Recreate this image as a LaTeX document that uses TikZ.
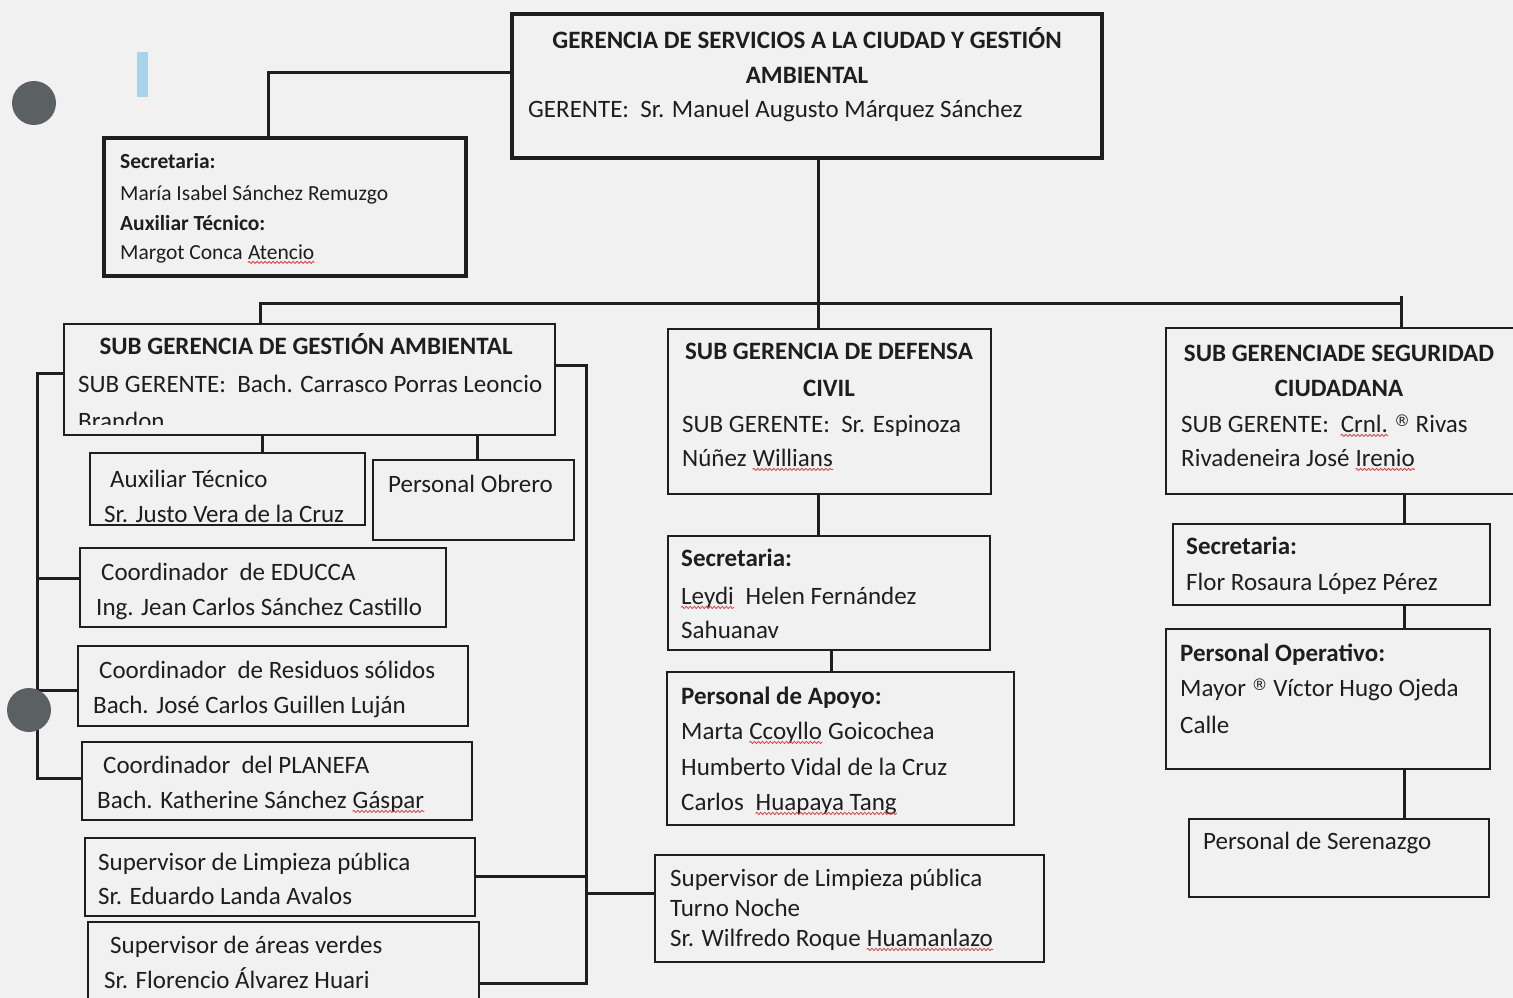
\documentclass[tikz,border=0pt]{standalone}
\usepackage{fontspec}
\setmainfont{Carlito}
\newfontfamily\djfont{DejaVu Sans}
\usetikzlibrary{fit,decorations.pathmorphing}
\definecolor{bg}{HTML}{F1F1F1}
\definecolor{ink}{HTML}{1E1E1E}
\definecolor{dotc}{HTML}{5B6062}
\definecolor{lblue}{HTML}{A9D3EA}
\definecolor{sqred}{HTML}{E04040}
\newcommand\reg{\raisebox{6pt}{\djfont\fontsize{16}{16}\selectfont ®}}
\tikzset{
 box/.style={draw=ink, line width=2.4pt, inner sep=0pt},
 thickbox/.style={box, line width=3.4pt},
 conn/.style={draw=ink, line width=3pt},
 txt/.style={anchor=mid west, inner sep=0pt, yshift=-4pt, text=ink, font=\fontsize{25}{30}\selectfont},
 btxt/.style={txt, font=\fontsize{25}{30}\selectfont\bfseries},
 ctitle/.style={anchor=mid, inner sep=0pt, yshift=-4pt, text=ink, font=\fontsize{25}{30}\selectfont\bfseries},
 stxt/.style={txt, font=\fontsize{21.5}{26}\selectfont},
 sbtxt/.style={txt, font=\fontsize{21.5}{26}\selectfont\bfseries},
 wcont/.style={anchor=base west, inner sep=0pt, text=ink, font=\fontsize{25}{30}\selectfont},
 squig/.style={draw=sqred, line width=0.8pt, decorate, decoration={snake, amplitude=1.1pt, segment length=4pt}},
}
\begin{document}
\begin{tikzpicture}[x=1pt,y=-1pt]
\fill[bg] (0,0) rectangle (1513,998);
\useasboundingbox (0,0) rectangle (1513,998);
\clip (0,0) rectangle (1513,998);

% decorations
\fill[lblue] (137,52) rectangle (148,97);
\fill[dotc] (34,103) circle[radius=22pt];

% boxes
\node[thickbox, fit={(512,14) (1102,158)}] (ger) {};
\node[thickbox, fit={(104,138) (466,276)}] (sec) {};
\node[box, fit={(64,324) (555,435)}] (sga) {};
\node[box, fit={(90,453) (365,525)}] (aux) {};
\node[box, fit={(373,460) (574,540)}] (obr) {};
\node[box, fit={(80,548) (446,627)}] (edu) {};
\node[box, fit={(78,646) (468,726)}] (res) {};
\node[box, fit={(82,742) (472,820)}] (plan) {};
\node[box, fit={(85,838) (475,916)}] (lim) {};
\node[box, fit={(88,922) (479,1010)}] (ver) {};
\node[box, fit={(655,855) (1044,962)}] (noc) {};
\node[box, fit={(668,329) (991,494)}] (def) {};
\node[box, fit={(668,536) (990,650)}] (dsec) {};
\node[box, fit={(667,672) (1014,825)}] (apo) {};
\node[box, fit={(1166,328) (1530,494)}] (seg) {};
\node[box, fit={(1173,524) (1490,605)}] (ssec) {};
\node[box, fit={(1166,629) (1490,769)}] (ope) {};
\node[box, fit={(1189,819) (1489,897)}] (ser) {};

% connectors
\coordinate (barL) at (260,303);
\coordinate (barR) at (1401,303);
\draw[conn] (ger.west |- 0,73) -| (268,0 |- sec.north);
\draw[conn] (818,0 |- ger.south) -- (818,0 |- def.north);
\draw[conn] (260,0 |- sga.north) -- (barL) -- (barR) -- (1401,0 |- seg.north);
\draw[conn] (1401,296) -- (barR);
\draw[conn] (262,0 |- sga.south) -- (262,0 |- aux.north);
\draw[conn] (477,0 |- sga.south) -- (477,0 |- obr.north);
\coordinate (lt) at (37,373);
\coordinate (lb) at (37,778);
\draw[conn] (sga.west |- lt) -- (lt) -- (lb) -- (plan.west |- lb);
\draw[conn] (37,578) -- (edu.west |- 0,578);
\draw[conn] (37,690) -- (res.west |- 0,690);
\coordinate (rt) at (586,365);
\coordinate (rb) at (586,983);
\draw[conn] (sga.east |- rt) -- (rt) -- (rb) -- (ver.east |- rb);
\draw[conn] (lim.east |- 0,876) -- (586,876);
\draw[conn] (586,893) -- (noc.west |- 0,893);
\draw[conn] (818,0 |- def.south) -- (818,0 |- dsec.north);
\draw[conn] (831,0 |- dsec.south) -- (831,0 |- apo.north);
\draw[conn] (1404,0 |- seg.south) -- (1404,0 |- ssec.north);
\draw[conn] (1404,0 |- ssec.south) -- (1404,0 |- ope.north);
\draw[conn] (1404,0 |- ope.south) -- (1404,0 |- ser.north);

\fill[dotc] (29,710) circle[radius=22pt];

% texts: gerencia
\node[ctitle] (g1) at (807,42) {GERENCIA DE SERVICIOS A LA CIUDAD Y GESTIÓN};
\node[ctitle] (g2) at (807,77) {AMBIENTAL};
\node[txt] (g3) at (528,111) {GERENTE:\ \ Sr. Manuel Augusto Márquez Sánchez};
% secretaria
\node[sbtxt] (s1) at (120,162) {Secretaria:};
\node[stxt] (s2) at (120,194) {María Isabel Sánchez Remuzgo};
\node[sbtxt] (s3) at (120,224) {Auxiliar Técnico:};
\node[stxt] (s4) at (120,253) {Margot Conca};
\node[wcont, font=\fontsize{21.5}{26}\selectfont] (s4w) at ([xshift=4.9pt]s4.base east) {Atencio};
\draw[squig] ([yshift=-3pt]s4w.base west) -- ([yshift=-3pt]s4w.base east);
% sub gerencia gestion ambiental
\node[ctitle] (a1) at (306,348) {SUB GERENCIA DE GESTIÓN AMBIENTAL};
\node[txt] (a2) at (78,386) {SUB GERENTE:\ \ Bach. Carrasco Porras Leoncio};
\begin{scope}
\clip (66,400) rectangle (553,424);
\node[txt] (a3) at (78,423) {Brandon};
\end{scope}
\node[txt] (x1) at (110,481) {Auxiliar Técnico};
\node[txt] (x2) at (104,516) {Sr. Justo Vera de la Cruz};
\node[txt] (o1) at (388,486) {Personal Obrero};
\node[txt] (e1) at (101,574) {Coordinador\ \ de EDUCCA};
\node[txt] (e2) at (96,609) {Ing. Jean Carlos Sánchez Castillo};
\node[txt] (r1) at (99,672) {Coordinador\ \ de Residuos sólidos};
\node[txt] (r2) at (93,707) {Bach. José Carlos Guillen Luján};
\node[txt] (p1) at (103,767) {Coordinador\ \ del PLANEFA};
\node[txt] (p2) at (97,802) {Bach. Katherine Sánchez};
\node[wcont] (p2w) at ([xshift=5.7pt]p2.base east) {Gáspar};
\draw[squig] ([yshift=-3pt]p2w.base west) -- ([yshift=-3pt]p2w.base east);
\node[txt] (l1) at (98,864) {Supervisor de Limpieza pública};
\node[txt] (l2) at (98,898) {Sr. Eduardo Landa Avalos};
\node[txt] (v1) at (110,947) {Supervisor de áreas verdes};
\node[txt] (v2) at (104,982) {Sr. Florencio Álvarez Huari};
\node[txt] (n1) at (670,880) {Supervisor de Limpieza pública};
\node[txt] (n2) at (670,910) {Turno Noche};
\node[txt] (n3) at (670,940) {Sr. Wilfredo Roque};
\node[wcont] (n3w) at ([xshift=5.7pt]n3.base east) {Huamanlazo};
\draw[squig] ([yshift=-3pt]n3w.base west) -- ([yshift=-3pt]n3w.base east);
% defensa civil
\node[ctitle] (d1) at (829,353) {SUB GERENCIA DE DEFENSA};
\node[ctitle] (d2) at (829,390) {CIVIL};
\node[txt] (d3) at (682,426) {SUB GERENTE:\ \ Sr. Espinoza};
\node[txt] (d4) at (682,460) {Núñez};
\node[wcont] (d4w) at ([xshift=5.7pt]d4.base east) {Willians};
\draw[squig] ([yshift=-3pt]d4w.base west) -- ([yshift=-3pt]d4w.base east);
\node[btxt] (ds1) at (681,560) {Secretaria:};
\node[txt] (ds2w) at (681,598) {Leydi};
\node[wcont] (ds2) at ([xshift=11.4pt]ds2w.base east) {Helen Fernández};
\draw[squig] ([yshift=-3pt]ds2w.base west) -- ([yshift=-3pt]ds2w.base east);
\node[txt] (ds3) at (681,632) {Sahuanav};
\node[btxt] (ap1) at (681,698) {Personal de Apoyo:};
\node[txt] (ap2) at (681,733) {Marta};
\node[wcont] (ap2w) at ([xshift=5.7pt]ap2.base east) {Ccoyllo};
\node[wcont] (ap2b) at ([xshift=5.7pt]ap2w.base east) {Goicochea};
\draw[squig] ([yshift=-3pt]ap2w.base west) -- ([yshift=-3pt]ap2w.base east);
\node[txt] (ap3) at (681,769) {Humberto Vidal\ de la Cruz};
\node[txt] (ap4) at (681,804) {Carlos};
\node[wcont] (ap4w) at ([xshift=11.4pt]ap4.base east) {Huapaya Tang};
\draw[squig] ([yshift=-3pt]ap4w.base west) -- ([yshift=-3pt]ap4w.base east);
% seguridad
\node[ctitle] (c1) at (1339,355) {SUB GERENCIADE SEGURIDAD};
\node[ctitle] (c2) at (1339,390) {CIUDADANA};
\node[txt] (c3) at (1181,426) {SUB GERENTE:};
\node[wcont] (c3w) at ([xshift=11.4pt]c3.base east) {Crnl.};
\node[wcont] (c3b) at ([xshift=5.7pt]c3w.base east) {\reg\ Rivas};
\draw[squig] ([yshift=-3pt]c3w.base west) -- ([yshift=-3pt]c3w.base east);
\node[txt] (c4) at (1181,460) {Rivadeneira José};
\node[wcont] (c4w) at ([xshift=5.7pt]c4.base east) {Irenio};
\draw[squig] ([yshift=-3pt]c4w.base west) -- ([yshift=-3pt]c4w.base east);
\node[btxt] (cs1) at (1186,548) {Secretaria:};
\node[txt] (cs2) at (1186,584) {Flor Rosaura López Pérez};
\node[btxt] (co1) at (1180,655) {Personal Operativo:};
\node[txt] (co2) at (1180,690) {Mayor \reg\ Víctor Hugo Ojeda};
\node[txt] (co3) at (1180,727) {Calle};
\node[txt] (se1) at (1203,843) {Personal de Serenazgo};
\end{tikzpicture}
\end{document}
